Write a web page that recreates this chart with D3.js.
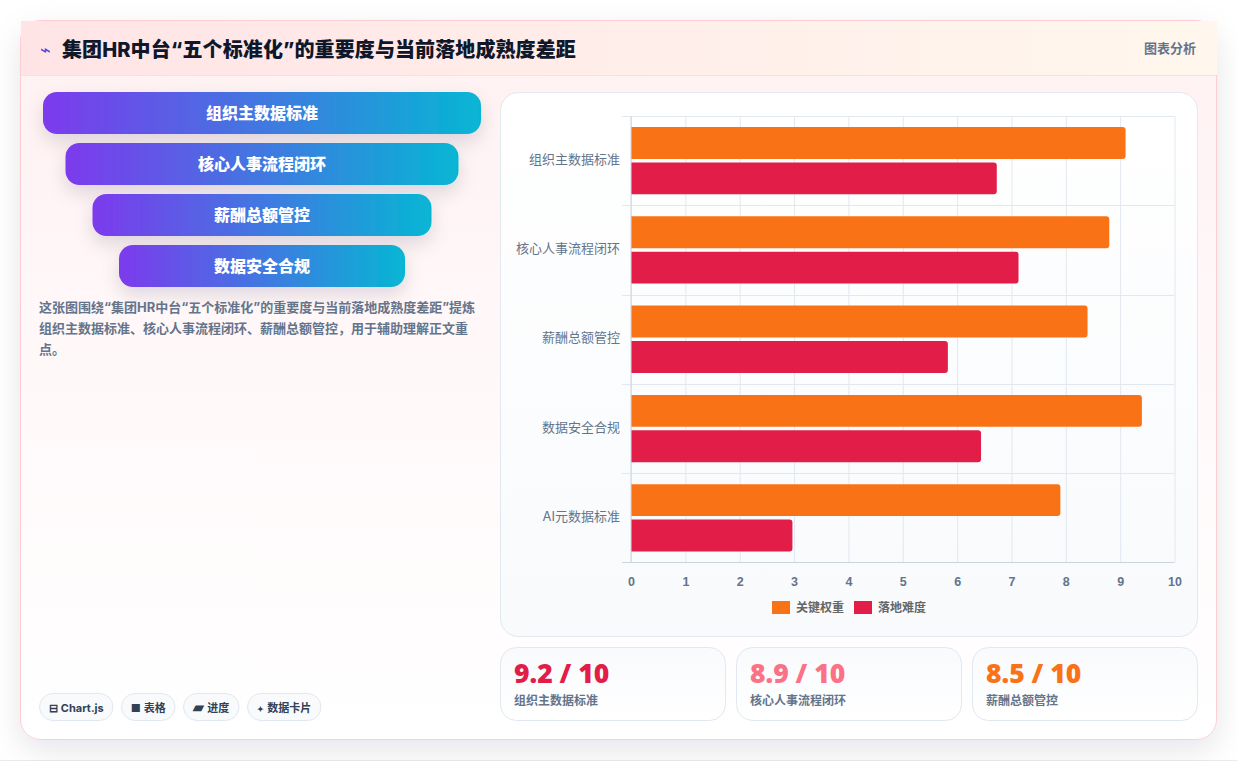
<!DOCTYPE html>
<html lang="zh">
<head>
<meta charset="utf-8">
<script src="https://cdn.jsdelivr.net/npm/d3@7/dist/d3.min.js"></script>
<style>
  html, body { margin: 0; padding: 0; background: #fff; }
  svg { display: block; }
  text { font-family: Inter, "Noto Sans CJK SC", sans-serif; }
</style>
</head>
<body>
<svg id="chart" width="1237" height="761"></svg>
<script>
// Chart data
const categories = ["组织主数据标准", "核心人事流程闭环", "薪酬总额管控", "数据安全合规", "AI元数据标准"];
const weightValues = [9.1, 8.8, 8.4, 9.4, 7.9];
const difficultyValues = [6.73, 7.13, 5.83, 6.44, 2.97];
const seriesNames = ["关键权重", "落地难度"];
const seriesColors = ["#f97316", "#e11d48"];
const xTicks = [0, 1, 2, 3, 4, 5, 6, 7, 8, 9, 10];

// Funnel, caption, chips and stat cards
const funnelLabels = ["组织主数据标准", "核心人事流程闭环", "薪酬总额管控", "数据安全合规"];
const funnelWidths = [438, 393, 339, 286];
const captionLines = [
  "这张图围绕“集团HR中台“五个标准化”的重要度与当前落地成熟度差距”提炼",
  "组织主数据标准、核心人事流程闭环、薪酬总额管控，用于辅助理解正文重",
  "点。"
];
const chipLabels = ["Chart.js", "表格", "进度", "数据卡片"];
const chipGlyphs = ["⊟", "■", "▰", "✦"];
const chipGlyphSizes = [11, 11, 14, 8];
const chipLefts = [39, 121, 183, 247];
const chipWidths = [73.5, 53.5, 55.5, 73.5];
const statValues = ["9.2 / 10", "8.9 / 10", "8.5 / 10"];
const statLabels = ["组织主数据标准", "核心人事流程闭环", "薪酬总额管控"];
const statColors = ["#e11d48", "#fb7185", "#f97316"];
const statLefts = [500.5, 736.5, 972.5];

const svg = d3.select("#chart");
const defs = svg.append("defs");

function linear(id, x1, y1, x2, y2, stops) {
  const g = defs.append("linearGradient").attr("id", id)
    .attr("x1", x1).attr("y1", y1).attr("x2", x2).attr("y2", y2);
  stops.forEach(([o, c]) => g.append("stop").attr("offset", o).attr("stop-color", c));
}
linear("cardBg", 0, 0, 0, 1, [[0, "#fff1f2"], [0.55, "#fff9fa"], [1, "#ffffff"]]);
linear("headBg", 0, 0, 1, 0, [[0, "#ffe4e6"], [1, "#fff7ed"]]);
linear("funnelBg", 0, 0, 1, 0, [[0, "#7c3aed"], [1, "#06b6d4"]]);
linear("panelBg", 0, 0, 0, 1, [[0, "#ffffff"], [1, "#f8fafc"]]);
linear("statBg", 0, 0, 0, 1, [[0, "#f8fafc"], [1, "#ffffff"]]);

function shadow(id, dy, blur, opacity) {
  defs.append("filter").attr("id", id)
    .attr("x", "-15%").attr("y", "-60%").attr("width", "130%").attr("height", "240%")
    .append("feDropShadow")
    .attr("dx", 0).attr("dy", dy).attr("stdDeviation", blur)
    .attr("flood-color", "#0f172a").attr("flood-opacity", opacity);
}
shadow("cardShadow", 10, 15, 0.1);
shadow("pillShadow", 8, 9, 0.13);

// Page rule along the bottom edge
svg.append("rect").attr("x", 0).attr("y", 760).attr("width", 1237).attr("height", 1).attr("fill", "#e8ebf0");

// Outer card
svg.append("rect").attr("x", 20.5).attr("y", 20.5).attr("width", 1196).attr("height", 719).attr("rx", 20)
  .attr("fill", "url(#cardBg)").attr("stroke", "#fecdd3").attr("filter", "url(#cardShadow)");

// Header band
svg.append("rect").attr("x", 21).attr("y", 21).attr("width", 1196).attr("height", 54).attr("fill", "url(#headBg)");
svg.append("rect").attr("x", 21).attr("y", 75).attr("width", 1195).attr("height", 1).attr("fill", "#e2e8f0");
svg.append("text").attr("x", 40).attr("y", 56).attr("font-size", 18).attr("fill", "#4f46e5").text("⌁");
svg.append("text").attr("x", 62).attr("y", 57).attr("font-size", 20).attr("font-weight", 800)
  .attr("letter-spacing", 0.1).attr("fill", "#0f172a")
  .text("集团HR中台“五个标准化”的重要度与当前落地成熟度差距");
svg.append("text").attr("x", 1196).attr("y", 53).attr("text-anchor", "end").attr("font-size", 13).attr("font-weight", 700)
  .attr("fill", "#64748b").text("图表分析");

// Funnel steps
const funnel = svg.append("g").selectAll("g").data(funnelLabels).join("g")
  .attr("transform", (d, i) => `translate(${262 - funnelWidths[i] / 2},${92 + i * 51})`);
funnel.append("rect").attr("width", (d, i) => funnelWidths[i]).attr("height", 42).attr("rx", 14)
  .attr("fill", "url(#funnelBg)").attr("filter", "url(#pillShadow)");
funnel.append("text").attr("x", (d, i) => funnelWidths[i] / 2).attr("y", 27).attr("text-anchor", "middle")
  .attr("font-size", 16).attr("font-weight", 800).attr("fill", "#fff").text(d => d);

// Caption
svg.append("g").selectAll("text").data(captionLines).join("text")
  .attr("x", 39).attr("y", (d, i) => 312 + i * 20.8)
  .attr("font-size", 13).attr("font-weight", 700).attr("fill", "#64748b").text(d => d);

// Chips
const chip = svg.append("g").selectAll("g").data(chipLabels).join("g")
  .attr("transform", (d, i) => `translate(${chipLefts[i] + 0.5},693.5)`);
chip.append("rect").attr("width", (d, i) => chipWidths[i]).attr("height", 27).attr("rx", 13.5)
  .attr("fill", "#f8fafc").attr("stroke", "#e2e8f0");
const chipText = chip.append("text").attr("x", (d, i) => chipWidths[i] / 2).attr("y", 18).attr("text-anchor", "middle")
  .attr("font-size", 11).attr("font-weight", 700).attr("fill", "#334155");
chipText.append("tspan").attr("font-size", (d, i) => chipGlyphSizes[i]).text((d, i) => chipGlyphs[i]);
chipText.append("tspan").attr("dx", 3).text(d => d);

// Chart panel
svg.append("rect").attr("x", 500.5).attr("y", 92.5).attr("width", 697).attr("height", 544).attr("rx", 18)
  .attr("fill", "url(#panelBg)").attr("stroke", "#e2e8f0");

const x = d3.scaleLinear().domain([0, 10]).range([631, 1174.5]);
const y = d3.scaleBand().domain(categories).range([116, 562.5]);
const inner = d3.scaleBand().domain(seriesNames).range([0, y.bandwidth()]).paddingInner(0.0986).paddingOuter(0.31);

const plot = svg.append("g");

// Vertical grid lines come from the x axis ticks
plot.append("g").attr("transform", "translate(0,562.5)")
  .call(d3.axisBottom(x).tickValues(xTicks).tickSize(-446.5).tickPadding(11))
  .call(g => g.select(".domain").remove())
  .call(g => g.selectAll("line").attr("stroke", "#e2e8f0"))
  .call(g => g.selectAll("text").attr("font-size", 12.5).attr("font-weight", 700).attr("dy", "0.98em")
    .attr("fill", "#64748b").style("font-family", '"Liberation Sans", sans-serif'));

// Horizontal band separators extend left of the axis
plot.append("g").selectAll("line").data(d3.range(categories.length)).join("line")
  .attr("x1", 622).attr("x2", 1174.5)
  .attr("y1", i => Math.round(116 + i * y.step()) + 0.5).attr("y2", i => Math.round(116 + i * y.step()) + 0.5)
  .attr("stroke", "#e2e8f0");
plot.append("line").attr("x1", 622).attr("x2", 1174.5).attr("y1", 562.5).attr("y2", 562.5).attr("stroke", "#cbd5e1");
plot.append("line").attr("x1", 631).attr("x2", 631).attr("y1", 116).attr("y2", 562.5).attr("stroke", "#cbd5e1");

// Category labels
plot.append("g").selectAll("text").data(categories).join("text")
  .attr("x", 620).attr("y", d => y(d) + y.bandwidth() / 2 + 3).attr("text-anchor", "end")
  .attr("font-size", 13).attr("fill", "#64748b").text(d => d);

// Rounded-end bars
function barPath(x0, y0, x1, h, r) {
  return `M${x0},${y0}H${x1 - r}Q${x1},${y0} ${x1},${y0 + r}V${y0 + h - r}Q${x1},${y0 + h} ${x1 - r},${y0 + h}H${x0}Z`;
}
[weightValues, difficultyValues].forEach((vals, s) => {
  plot.append("g").selectAll("path").data(vals).join("path")
    .attr("d", (v, i) => barPath(x(0) + 0.5, y(categories[i]) + inner(seriesNames[s]), x(v), inner.bandwidth(), 3))
    .attr("fill", seriesColors[s]);
});

// Legend
const legendLefts = [772, 854];
const legend = svg.append("g").selectAll("g").data(seriesNames).join("g")
  .attr("transform", (d, i) => `translate(${legendLefts[i]},601)`);
legend.append("rect").attr("width", 18).attr("height", 13).attr("fill", (d, i) => seriesColors[i]);
legend.append("text").attr("x", 24).attr("y", 11).attr("font-size", 12).attr("font-weight", 700).attr("fill", "#666").text(d => d);

// Stat cards
const stat = svg.append("g").selectAll("g").data(statValues).join("g")
  .attr("transform", (d, i) => `translate(${statLefts[i]},647.5)`);
stat.append("rect").attr("width", 225).attr("height", 73).attr("rx", 16)
  .attr("fill", "url(#statBg)").attr("stroke", "#e2e8f0");
stat.append("text").attr("x", 13.5).attr("y", 35.5).attr("font-size", 26.5).attr("font-weight", 800)
  .style("font-family", '"Open Sans", sans-serif').attr("fill", (d, i) => statColors[i]).text(d => d);
stat.append("text").attr("x", 13.5).attr("y", 57).attr("font-size", 12).attr("font-weight", 700)
  .attr("fill", "#64748b").text((d, i) => statLabels[i]);
</script>
</body>
</html>
